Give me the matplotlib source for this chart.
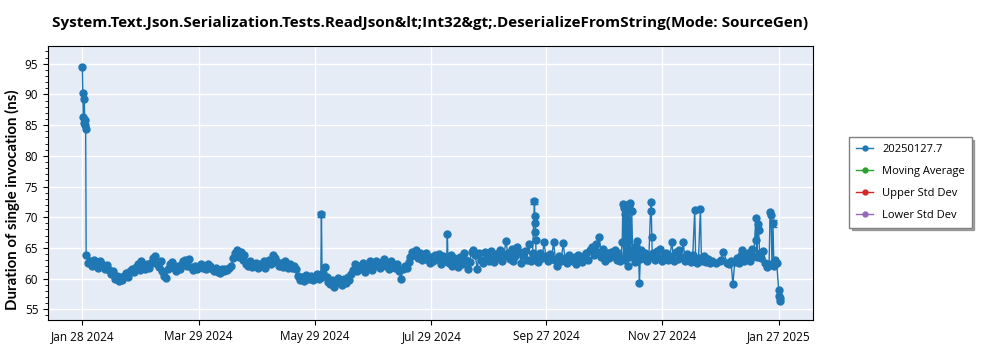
"""
Per-build timings for one System.Text.Json benchmark, Jan 2024 - Jan 2025.
Values are daily results (ns); a tuple means several builds on the same day.
"""

import datetime as dt
import numpy as np
import matplotlib
matplotlib.use("Agg")
import matplotlib.pyplot as plt
import matplotlib.dates as mdates
from matplotlib.ticker import FixedLocator, MultipleLocator

TITLE = "System.Text.Json.Serialization.Tests.ReadJson&lt;Int32&gt;.DeserializeFromString(Mode: SourceGen)"
YLABEL = "Duration of single invocation (ns)"
LEGEND_NAMES = ["20250127.7", "Moving Average", "Upper Std Dev", "Lower Std Dev"]
LEGEND_COLORS = ["#1f77b4", "#2ca02c", "#d62728", "#9467bd"]

# ---------------- DATA (one entry per day, starting at the given date) ----------------

jan_2024 = [(94.5, 90.2, 86.3, 85.3), (89.3, 85.8, 85.0, 84.3), 63.9, 62.6]
feb_2024 = [62.8, 62.1, 63.0, 62.4, 61.8, 62.9, 62.6, 62.0, 61.5, 62.2, 61.4,
            60.8, 61.2, 60.0, 60.4, 59.6, 60.2, 59.8, 60.5, 60.9, 60.3, 61.2, 61.6,
            61.0, 61.9, 62.3, 61.4, 62.8, 61.7]
mar_2024 = [61.5, 62.3, 61.8, 62.6, 63.3, 63.6, 62.4, 61.9, 62.8, 61.2,
            60.4, 60.1, 61.6, 62.3, 62.7, 61.8, 61.3, 62.0, 61.6, 62.4,
            62.8, 63.1, 62.0, 63.2, 61.9, 61.4, 62.1, 61.6, 61.9, 62.3, 61.7]
apr_2024 = [62.0, 61.6, 62.4, 62.0, 61.5, 61.3, 61.8, 61.1, 60.9, 61.5,
            61.2, 61.6, 61.4, 61.8, 62.1, 63.4, 64.2, 64.6, 63.5, 64.4,
            63.0, 63.8, 62.4, 62.1, 62.9, 61.9, 62.2, 62.6, 61.8, 62.3]
may_2024 = [62.2, 62.9, 61.8, 62.5, 63.0, 62.4, 63.8, 63.4, 62.7, 62.1,
            62.6, 61.9, 62.8, 62.3, 61.7, 62.4, 61.8, 62.0, 61.5, 60.4,
            59.8, 60.3, 59.6, 60.6, 60.1, 59.9, 60.4, 59.7, 60.2, 60.8, 60.0]
jun_2024 = [(60.4, 70.5, 60.2), 60.9, 61.9, 60.3, 59.4, 59.1, 59.8, 58.6, 59.3, 60.1,
            59.5, 58.9, 59.9, 59.2, 60.3, 59.7, 60.8, 61.4, 62.3, 61.2,
            62.0, 61.5, 62.6, 61.1, 62.2, 61.7, 62.8, 61.4, 62.1, 62.9]
jul_2024 = [62.3, 61.8, 62.7, 63.2, 62.0, 62.6, 61.5, 62.9, 62.2, 61.8,
            62.4, 61.3, 59.9, 61.6, 62.1, 61.8, 62.7, 63.5, 64.4, 63.8,
            64.6, 63.4, 64.1, 63.0, 63.7, 64.2, 63.1, 62.6, 63.5, 62.9, 63.8]
aug_2024 = [63.2, 64.0, 62.4, 63.6, 62.9, (63.4, 67.2, 63.0), 62.6, 63.8, 62.1, 63.3,
            62.8, 61.9, 63.5, 62.4, 64.1, 63.0, 61.6, 62.7, 64.3, 64.6,
            63.8, 61.5, 64.2, 63.1, 62.6, 64.3, 63.5, 62.9, 64.5, 63.2, 62.7]
sep_2024 = [64.0, 63.3, 64.7, 62.8, 63.6, 66.2, 64.1, 63.2, 64.8, 62.9,
            63.7, 65.1, 64.3, 62.6, 63.9, 64.5, 63.1, 65.6, 62.9, 64.2,
            (72.6, 70.2, 69.0, 67.6, 66.3, 63.4), 63.8, 62.7, 64.1, 63.3,
            65.9, 63.6, 62.8, 64.0, 63.2]
oct_2024 = [66.0, 63.1, 62.0, 63.7, 62.8, 65.8, 63.4, 62.6, 63.9, 63.1,
            62.9, 63.5, 62.4, 63.8, 63.2, 62.7, 63.6, 64.2, 63.0, 64.6,
            65.2, 63.8, 65.7, 64.3, 66.7, 63.5, 64.8, 62.9, 64.1, 63.3, 64.4]
nov_2024 = [63.6, 64.7, 63.0, 64.2, 62.8, (66.0, 72.1, 63.4), (71.5, 63.1, 70.6),
            (72.0, 63.8, 71.4), (62.0, 71.8, 63.5), (72.3, 64.2), (71.0, 63.6),
            (64.8, 62.7), (65.3, 63.9), (66.2, 64.1), (59.3, 63.2),
            64.6, 63.3, 64.1, 62.9, 63.7, (72.5, 71.0, 66.8, 63.5),
            64.2, 63.0, 64.5, 63.4, 64.8, 62.9, 63.6, 64.2, 63.1]
dec_2024 = [63.6, 66.0, 62.9, 64.3, 63.2, 64.6, 63.5, 65.9, 62.8, 64.0,
            63.3, 62.7, 63.9, (71.2, 63.0), 62.6, 63.4, (71.4, 63.1),
            62.9, 63.6, 62.7, 63.2, 62.6, 62.8, None, 62.5, None, 62.9,
            63.0, 64.4, None, 62.6]
jan_2025 = [62.3, 62.8, 59.1, 62.7, 63.4, 62.5, 63.9, 64.6, 62.8, 63.5,
            64.2, 62.9, 64.8, 63.6, (69.8, 66.3, 63.5), (68.9, 67.9), 64.1,
            63.3, 64.5, 62.6, 61.9, (62.4, 70.9), (70.4, 62.2), (69.0, 62.1),
            63.0, 62.5, (58.2, 57.1, 56.4, 56.8)]

MONTHS = [
    ("2024-01-28", jan_2024), ("2024-02-01", feb_2024), ("2024-03-01", mar_2024),
    ("2024-04-01", apr_2024), ("2024-05-01", may_2024), ("2024-06-01", jun_2024),
    ("2024-07-01", jul_2024), ("2024-08-01", aug_2024), ("2024-09-01", sep_2024),
    ("2024-10-01", oct_2024), ("2024-11-01", nov_2024), ("2024-12-01", dec_2024),
    ("2025-01-01", jan_2025),
]

# a few builds whose error bars stick out past the marker
err_dates = ["2024-06-01 08:00", "2024-09-21 00:00", "2025-01-24 00:00"]
err_values = [70.5, 72.6, 69.0]
err_sizes = [0.4, 0.4, 0.6]

XTICKS = ["2024-01-28", "2024-03-29", "2024-05-29", "2024-07-29",
          "2024-09-27", "2024-11-27", "2025-01-27"]


def expand(months):
    dates, values = [], []
    for start, vals in months:
        d0 = dt.datetime.fromisoformat(start)
        for i, v in enumerate(vals):
            if v is None:
                continue
            vs = v if isinstance(v, tuple) else (v,)
            for k, y in enumerate(vs):
                dates.append(d0 + dt.timedelta(days=i, hours=k * 24 / len(vs)))
                values.append(y)
    return dates, np.array(values)


dates, values = expand(MONTHS)

plt.rcParams["font.family"] = ["Open Sans", "DejaVu Sans"]

fig = plt.figure(figsize=(10, 3.5), dpi=100)
ax = fig.add_axes([0.048, 0.0857, 0.765, 0.783])
ax.set_facecolor("#e5ecf6")
ax.grid(True, color="white", linewidth=1.0)
ax.set_axisbelow(True)

ax.plot(dates, values, color="#1f77b4", marker="o", markersize=5, linewidth=1.0)
ax.errorbar([dt.datetime.fromisoformat(d) for d in err_dates], err_values, yerr=err_sizes,
            fmt="none", ecolor="#1f77b4", capsize=3, elinewidth=1.0)

ax.set_xlim(dt.datetime(2024, 1, 10), dt.datetime(2025, 2, 14))
ax.set_ylim(53.25, 97.9)
ax.xaxis.set_major_locator(FixedLocator(mdates.date2num(
    [dt.datetime.fromisoformat(d) for d in XTICKS])))
ax.xaxis.set_major_formatter(mdates.DateFormatter("%b %d %Y"))
ax.yaxis.set_major_locator(MultipleLocator(5))
ax.yaxis.set_minor_locator(MultipleLocator(1))
ax.tick_params(labelsize=8.5)
for s in ax.spines.values():
    s.set_color("black")

ax.set_title(TITLE, fontsize=11, fontweight="bold", pad=14)
ax.set_ylabel(YLABEL, fontsize=10.8, fontweight="bold",
              family=["Lato", "DejaVu Sans"])
ax.yaxis.set_label_coords(-0.036, 0.44)

handles = [plt.Line2D([], [], color=c, marker="o", markersize=3.5, linewidth=1.0)
           for c in LEGEND_COLORS]
leg = ax.legend(handles, LEGEND_NAMES, loc="upper left", bbox_to_anchor=(1.047, 0.668),
                borderaxespad=0, fontsize=8, frameon=True, fancybox=False,
                shadow={"color": "0.35", "alpha": 0.5},
                edgecolor="#808080", handlelength=1.6, borderpad=0.6, labelspacing=1.0)
leg.get_frame().set_linewidth(1.0)

fig.savefig("out.png", dpi=100)
